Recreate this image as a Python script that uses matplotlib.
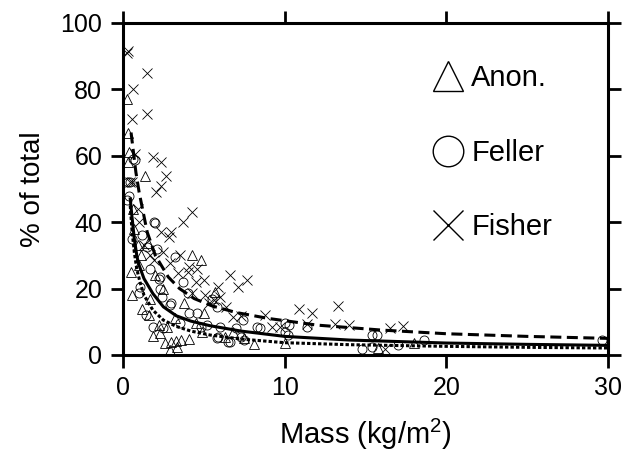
import matplotlib
matplotlib.use('Agg')
import matplotlib.pyplot as plt
from matplotlib.lines import Line2D

plt.rcParams.update({
    'font.family': 'Liberation Sans',
    'mathtext.fontset': 'custom',
    'mathtext.rm': 'Liberation Sans',
    'mathtext.it': 'Liberation Sans:italic',
    'font.size': 18,
})

# ---- scatter data ----
anon_x = [0.25, 0.3, 0.37, 1.36, 0.62, 0.68, 1.55, 4.3, 4.8, 0.55, 1.2, 1.85,
          2.6, 3.0, 3.3, 3.6, 4.1, 2.9, 3.35, 2.7, 3.8, 5.7, 4.9, 6.3, 8.1,
          10.0, 1.0, 2.0, 2.5, 1.6, 3.2, 5.0, 4.5, 6.8, 7.5, 2.2, 1.1, 0.9,
          15.8, 18.0, 0.3, 1.7, 0.5, 2.3]
anon_y = [77, 67, 61, 54, 44, 38, 33.7, 30, 28.6, 18, 14, 5.7,
          3.6, 4.0, 4.2, 4.5, 4.8, 1.5, 2.4, 8.4, 15.7, 19, 7, 5.4, 3.3,
          3.5, 27, 24, 20, 12, 11, 12.5, 9.5, 7, 5, 9, 30, 33,
          2.2, 3.5, 58, 17, 25, 6.5]

feller_x = [0.75, 0.43, 0.6, 0.3, 0.25, 1.9, 1.2, 1.5, 2.1, 2.0, 3.2, 2.3,
            1.05, 2.3, 2.4, 3.0, 4.0, 4.6, 3.5, 4.8, 5.9, 6.5, 7.0, 7.5,
            8.3, 10.0, 10.0, 5.8, 2.2, 1.0, 2.9, 1.4, 4.1, 5.2, 1.85, 2.5,
            5.5, 6.0, 5.8, 6.6, 7.4, 8.5, 10.3, 11.4, 10.2, 7.3, 15.4, 15.7,
            14.8, 15.4, 17.0, 18.6, 29.6, 0.4, 0.55, 1.7, 3.7]
feller_y = [58.7, 52, 59, 52, 46.7, 40, 36, 32.5, 32, 39.8, 29.5, 23.5,
            20.5, 20, 17.5, 15.7, 18.7, 12.6, 9.6, 8.4, 5.4, 4.0, 8.1, 4.5,
            8.4, 9.6, 6.8, 14.5, 23, 18.7, 15, 12, 12.6, 9, 8.4, 8,
            17, 8.4, 5, 4, 10.5, 8, 9, 8.4, 6, 5.4, 6, 6,
            1.8, 2.4, 3, 4.5, 4.5, 48, 35, 26, 22]

fisher_x = [0.25, 0.3, 1.5, 0.6, 0.55, 1.5, 1.85, 2.35, 2.65, 2.35, 0.75,
            0.55, 0.43, 2.05, 4.3, 3.7, 2.35, 3.0, 2.85, 1.9, 2.9, 3.4, 4.0,
            4.1, 4.6, 5.0, 4.5, 6.6, 7.1, 7.7, 5.9, 4.3, 5.1, 5.6, 6.0, 6.4,
            5.3, 6.8, 8.8, 9.2, 9.7, 7.3, 10.9, 11.7, 11.4, 13.3, 13.1, 14.0,
            16.5, 17.3, 16.2, 1.0, 1.3, 1.7, 0.9, 3.5, 2.5]
fisher_y = [91, 91.5, 85, 80, 71, 72.5, 59.6, 58, 54, 51, 60.5,
            52, 52, 49, 43, 40, 37, 37, 35.5, 28.6, 27.7, 24.7, 25,
            26.5, 26, 22.6, 22, 24, 20.5, 22.6, 20.5, 18.7, 18, 16.6, 17.5, 14.5,
            15.7, 11.4, 12, 8.4, 8.4, 11.7, 14, 12.7, 9.3, 14.8, 9.3, 9,
            8.1, 8.7, 1.8, 40, 33, 30, 44, 30, 31]

# ---- fitted curves ----
fit_fisher_x = [0.5, 0.65, 0.8, 1.0, 1.25, 1.5, 2.0, 2.8, 3.5, 4.4, 5.5, 7,
                9, 12, 16, 20, 25, 30]
fit_fisher_y = [67, 61, 55, 49, 43, 37, 30, 23.5, 20, 17, 14.8, 12.8,
                11, 9, 7.5, 6.4, 5.6, 5.0]
fit_feller_x = [0.45, 0.55, 0.7, 0.87, 1.0, 1.3, 1.85, 2.5, 3.3, 4.2, 5.4,
                7.3, 10, 14, 20, 25, 30]
fit_feller_y = [47, 42, 35, 29.5, 27, 23, 18.5, 14.5, 11.8, 10.2, 8.8,
                7.2, 5.6, 4.5, 3.6, 3.2, 2.9]
fit_anon_x = [0.45, 0.55, 0.7, 0.85, 1.05, 1.3, 1.85, 2.5, 3.3, 4.2, 5.4,
              7.3, 10, 14, 20, 25, 30]
fit_anon_y = [45, 38, 31, 26, 22, 18, 13.5, 10.5, 8.6, 7.2, 6.0,
              4.8, 3.7, 3.1, 2.6, 2.3, 2.1]

labels = ['Anon.', 'Feller', 'Fisher']

fig = plt.figure(figsize=(6.29, 4.54), dpi=100)
fig.patch.set_facecolor('white')
ax = fig.add_axes([0.1955, 0.2181, 0.7711, 0.7313])

mk = dict(linestyle='none', markersize=6.5, markeredgewidth=0.6,
          markerfacecolor='none', markeredgecolor='black')
ax.plot(anon_x, anon_y, marker='^', **mk)
ax.plot(feller_x, feller_y, marker='o', **mk)
ax.plot(fisher_x, fisher_y, marker='x', **mk)

ax.plot(fit_fisher_x, fit_fisher_y, color='black', lw=2.2, dashes=(3.6, 1.8))
ax.plot(fit_feller_x, fit_feller_y, color='black', lw=2.2)
ax.plot(fit_anon_x, fit_anon_y, color='black', lw=2.2, dashes=(1.1, 0.7))

ax.set_xlim(0, 30)
ax.set_ylim(0, 100)
ax.set_xticks([0, 10, 20, 30])
ax.set_yticks([0, 20, 40, 60, 80, 100])
ax.tick_params(direction='out', length=9, width=2, labelsize=18, pad=6,
               top=True, right=True)
for s in ax.spines.values():
    s.set_linewidth(2.2)

ax.set_xlabel('Mass (kg/m$^2$)', fontsize=21, labelpad=12)
ax.set_ylabel('% of total', fontsize=20, labelpad=10)

hk = dict(linestyle='none', markersize=22, markeredgewidth=1.0,
          markerfacecolor='none', markeredgecolor='black')
handles = [Line2D([], [], marker='^', **hk),
           Line2D([], [], marker='o', **hk),
           Line2D([], [], marker='x', **hk)]
ax.legend(handles, labels, loc='upper left', bbox_to_anchor=(0.61, 0.92),
          frameon=False, fontsize=21, handlelength=1.0, handletextpad=0.3,
          labelspacing=1.6, borderpad=0)

fig.savefig('out.png', dpi=100)
